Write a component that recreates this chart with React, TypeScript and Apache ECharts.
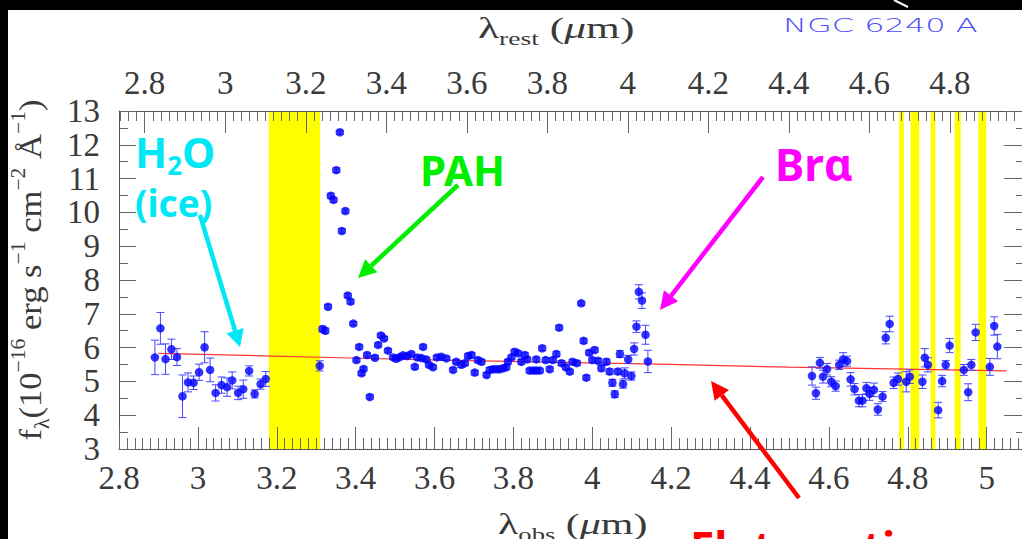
import React, { useEffect, useRef } from 'react';
import * as echarts from 'echarts';

// ---------- data ----------
const obsWave = [
  2.891, 2.905, 2.918, 2.933, 2.947, 2.961, 2.975, 2.989, 3.003, 3.017, 3.031, 3.045, 3.06, 3.074, 3.087, 3.102, 3.115, 3.13, 3.144, 3.159, 3.172,
  3.309, 3.316, 3.323, 3.33, 3.337, 3.344, 3.351, 3.36, 3.365, 3.374, 3.38, 3.387, 3.394, 3.402, 3.409, 3.415, 3.42, 3.429, 3.436, 3.449, 3.457,
  3.464, 3.472, 3.482, 3.495, 3.503, 3.512, 3.52, 3.53, 3.541, 3.55, 3.556, 3.567, 3.571, 3.579, 3.586, 3.596, 3.606, 3.617, 3.63, 3.647, 3.655,
  3.668, 3.677, 3.685, 3.694, 3.702, 3.71, 3.719, 3.732, 3.74, 3.748, 3.757, 3.765, 3.774, 3.782, 3.786, 3.795, 3.803, 3.812, 3.82, 3.829,
  3.835, 3.841, 3.85, 3.858, 3.858, 3.867, 3.873, 3.882, 3.892, 3.9, 3.909, 3.916, 3.922, 3.933, 3.943, 3.95, 3.961, 3.972, 3.978, 3.985,
  3.992, 4.0, 4.006, 4.015, 4.023, 4.036, 4.044, 4.051, 4.057, 4.065, 4.07, 4.078, 4.082, 4.091, 4.099, 4.106, 4.112, 4.118, 4.126, 4.135, 4.141,
  4.557, 4.567, 4.577, 4.585, 4.595, 4.606, 4.617, 4.626, 4.636, 4.646, 4.655, 4.665, 4.676, 4.685, 4.695, 4.703, 4.714, 4.724, 4.736, 4.744,
  4.754, 4.764, 4.775, 4.796, 4.805, 4.837, 4.843, 4.851, 4.877, 4.887, 4.896, 4.906, 4.942, 4.953, 4.961, 4.972, 5.008, 5.019, 5.027,
];
const fluxVal = [
  5.71, 6.57, 5.66, 5.95, 5.72, 4.56, 4.97, 4.96, 5.27, 6.01, 5.34, 4.66, 4.89, 4.83, 5.03, 4.66, 4.77, 5.31, 4.63, 4.92, 5.07,
  5.46, 6.55, 6.5, 7.21, 10.49, 10.37, 11.25, 12.37, 9.45, 10.04, 7.54, 7.36, 6.71, 5.63, 6.02, 5.24, 5.37, 5.78, 4.54, 5.7, 6.08,
  6.36, 6.27, 5.91, 5.71, 5.67, 5.72, 5.77, 5.75, 5.81, 5.43, 5.71, 5.69, 6.02, 5.65, 5.49, 5.42, 5.71, 5.73, 5.68, 5.34, 5.58,
  5.49, 5.54, 5.75, 5.78, 5.26, 5.63, 5.58, 5.19, 5.34, 5.36, 5.36, 5.36, 5.39, 5.42, 5.58, 5.71, 5.88, 5.83, 5.58, 5.78,
  5.65, 5.32, 5.32, 5.32, 5.65, 5.32, 5.98, 5.63, 5.36, 5.63, 5.81, 6.59, 5.54, 5.42, 5.29, 5.58, 5.54, 7.31, 6.2, 5.11,
  5.85, 5.63, 5.93, 5.61, 5.39, 5.58, 5.29, 4.96, 4.62, 5.29, 5.81, 4.92, 5.24, 5.65, 5.16, 5.96, 6.62, 7.65, 7.39, 6.38, 5.59,
  5.16, 4.65, 5.55, 5.14, 5.36, 4.99, 4.86, 5.49, 5.65, 5.6, 5.06, 4.77, 4.43, 4.43, 4.8, 4.63, 4.75, 4.17, 4.55, 6.29,
  6.7, 4.96, 5.07, 4.99, 5.14, 4.99, 5.7, 5.49, 4.15, 5.01, 5.49, 6.06, 5.34, 4.68, 5.49, 6.45, 5.43, 6.64, 6.03,
];
const fluxErr = [
  0.51, 0.47, 0.45, 0.3, 0.25, 0.63, 0.28, 0.2, 0.24, 0.46, 0.35, 0.24, 0.24, 0.27, 0.25, 0.2, 0.27, 0.15, 0.12, 0.15, 0.22,
  0.15, 0.08, 0.08, 0.07, 0.08, 0.07, 0.07, 0.06, 0.07, 0.06, 0.06, 0.07, 0.06, 0.06, 0.06, 0.06, 0.06, 0.06, 0.06, 0.06, 0.06,
  0.06, 0.06, 0.06, 0.06, 0.06, 0.06, 0.06, 0.06, 0.06, 0.06, 0.06, 0.06, 0.06, 0.06, 0.06, 0.06, 0.06, 0.06, 0.06, 0.06, 0.06,
  0.07, 0.07, 0.07, 0.07, 0.07, 0.07, 0.07, 0.07, 0.07, 0.07, 0.07, 0.07, 0.07, 0.07, 0.07, 0.07, 0.07, 0.07, 0.07, 0.07,
  0.07, 0.07, 0.07, 0.07, 0.07, 0.07, 0.07, 0.07, 0.07, 0.07, 0.07, 0.07, 0.07, 0.07, 0.07, 0.07, 0.07, 0.06, 0.07, 0.07,
  0.07, 0.07, 0.07, 0.07, 0.08, 0.08, 0.08, 0.1, 0.1, 0.08, 0.1, 0.12, 0.16, 0.12, 0.12, 0.18, 0.17, 0.21, 0.23, 0.28, 0.33,
  0.27, 0.18, 0.16, 0.19, 0.17, 0.15, 0.15, 0.14, 0.2, 0.15, 0.2, 0.17, 0.18, 0.18, 0.17, 0.19, 0.2, 0.17, 0.15, 0.18,
  0.23, 0.17, 0.18, 0.3, 0.2, 0.2, 0.27, 0.21, 0.23, 0.17, 0.13, 0.21, 0.16, 0.25, 0.16, 0.24, 0.25, 0.27, 0.36,
];
const continuumWave = [2.9, 3.36, 3.61, 4.17, 4.5, 5.05];
const continuumFlux = [5.83, 5.7, 5.63, 5.51, 5.42, 5.31];
const maskedBands = [
  [3.18, 3.31], [4.778, 4.79], [4.807, 4.829], [4.858, 4.87], [4.919, 4.934], [4.979, 4.999],
];
const obsTickLabels = [2.8, 3, 3.2, 3.4, 3.6, 3.8, 4, 4.2, 4.4, 4.6, 4.8, 5];
const restTickLabels = [2.8, 3, 3.2, 3.4, 3.6, 3.8, 4, 4.2, 4.4, 4.6, 4.8];
const fluxTickLabels = [3, 4, 5, 6, 7, 8, 9, 10, 11, 12, 13];

// ---------- axis ranges ----------
const OBS_MIN = 2.8;
const OBS_MAX = 5.0895;
const REST_MIN = 2.7361;
const REST_MAX = 4.9789;
const FLUX_MIN = 3;
const FLUX_MAX = 13;

function minorTicks(start: number, end: number, step: number, majorEvery: number) {
  const out: number[] = [];
  const n = Math.floor((end - start) / step + 1e-6);
  for (let i = 0; i <= n; i++) {
    const v = Math.round((start + i * step) * 1000) / 1000;
    const isMajor = Math.abs(v / majorEvery - Math.round(v / majorEvery)) < 1e-6;
    if (!isMajor) out.push(v);
  }
  return out;
}
const obsMinor = minorTicks(2.8, OBS_MAX, 0.02, 0.2);
const restMinor = minorTicks(2.74, REST_MAX, 0.02, 0.2);
const fluxMinor = minorTicks(3, 13, 0.5, 1);

const fmt = (v: number) => String(Math.round(v * 10) / 10);
const AXIS_COLOR = '#555';
const TICK_COLOR = '#666';
const LABEL_FONT = { fontFamily: 'Liberation Serif', fontSize: 33, color: '#3a3a3a' };

function arrow(x1: number, y1: number, x2: number, y2: number, color: string, w: number, hl: number, hw: number) {
  const a = Math.atan2(y2 - y1, x2 - x1);
  const bx = x2 - hl * Math.cos(a);
  const by = y2 - hl * Math.sin(a);
  const px = -Math.sin(a);
  const py = Math.cos(a);
  return [
    { type: 'line', z: 100, shape: { x1, y1, x2: bx, y2: by }, style: { stroke: color, lineWidth: w } },
    {
      type: 'polygon', z: 100,
      shape: { points: [[x2, y2], [bx + px * hw, by + py * hw], [bx - px * hw, by - py * hw]] },
      style: { fill: color },
    },
  ];
}

const serif = 'Liberation Serif';
const ann = 'Noto Sans';
const TXT = '#3a3a3a';

export default function App() {
  const ref = useRef<HTMLDivElement>(null);
  useEffect(() => {
    if (!ref.current) return;
    const chart = echarts.init(ref.current, null, { renderer: 'svg' });
    const points = obsWave.map((w, i) => [w, fluxVal[i]]);
    const errs = obsWave.map((w, i) => [w, fluxVal[i] - fluxErr[i], fluxVal[i] + fluxErr[i]]);
    const cont = continuumWave.map((w, i) => [w, continuumFlux[i]]);

    const xBase = {
      type: 'value', gridIndex: 0, z: 5, splitLine: { show: false },
    };
    const titleRich = {
      m: { fontFamily: serif, fontSize: 30, lineHeight: 40, fill: TXT },
      i: { fontFamily: serif, fontStyle: 'italic', fontSize: 30, lineHeight: 40, fill: TXT },
      s: { fontFamily: serif, fontSize: 19, lineHeight: 19, verticalAlign: 'bottom', fill: TXT },
    };
    const option: any = {
      animation: false,
      backgroundColor: '#ffffff',
      grid: { left: 119, right: 0, top: 111, bottom: 90, containLabel: false, outerBoundsMode: 'none' },
      xAxis: [
        {
          ...xBase, min: OBS_MIN, max: OBS_MAX, position: 'bottom',
          axisLine: { show: true, lineStyle: { color: AXIS_COLOR, width: 1 } },
          axisTick: { show: true, inside: true, length: 22, customValues: obsTickLabels, lineStyle: { color: TICK_COLOR } },
          axisLabel: { show: true, customValues: obsTickLabels, formatter: fmt, margin: 12, ...LABEL_FONT },
        },
        {
          ...xBase, min: OBS_MIN, max: OBS_MAX, position: 'bottom',
          axisLine: { show: false },
          axisTick: { show: true, inside: true, length: 11, customValues: obsMinor, lineStyle: { color: TICK_COLOR } },
          axisLabel: { show: false },
        },
        {
          ...xBase, min: REST_MIN, max: REST_MAX, position: 'top',
          axisLine: { show: true, lineStyle: { color: AXIS_COLOR, width: 1 } },
          axisTick: { show: true, inside: true, length: 22, customValues: restTickLabels, lineStyle: { color: TICK_COLOR } },
          axisLabel: { show: true, customValues: restTickLabels, formatter: fmt, margin: 12, ...LABEL_FONT },
        },
        {
          ...xBase, min: REST_MIN, max: REST_MAX, position: 'top',
          axisLine: { show: false },
          axisTick: { show: true, inside: true, length: 10, customValues: restMinor, lineStyle: { color: TICK_COLOR } },
          axisLabel: { show: false },
        },
      ],
      yAxis: [
        {
          type: 'value', min: FLUX_MIN, max: FLUX_MAX, position: 'left', z: 5, splitLine: { show: false },
          axisLine: { show: true, lineStyle: { color: AXIS_COLOR, width: 1 } },
          axisTick: { show: true, inside: true, length: 17, customValues: fluxTickLabels, lineStyle: { color: TICK_COLOR } },
          axisLabel: { show: true, customValues: fluxTickLabels, margin: 19, ...LABEL_FONT },
        },
        {
          type: 'value', min: FLUX_MIN, max: FLUX_MAX, position: 'left', z: 5, splitLine: { show: false },
          axisLine: { show: false },
          axisTick: { show: true, inside: true, length: 9, customValues: fluxMinor, lineStyle: { color: TICK_COLOR } },
          axisLabel: { show: false },
        },
        {
          type: 'value', min: FLUX_MIN, max: FLUX_MAX, position: 'right', z: 5, splitLine: { show: false },
          axisLine: { show: true, lineStyle: { color: AXIS_COLOR, width: 1 } },
          axisTick: { show: true, inside: true, length: 18, customValues: fluxTickLabels, lineStyle: { color: TICK_COLOR } },
          axisLabel: { show: false },
        },
        {
          type: 'value', min: FLUX_MIN, max: FLUX_MAX, position: 'right', z: 5, splitLine: { show: false },
          axisLine: { show: false },
          axisTick: { show: true, inside: true, length: 6, customValues: fluxMinor, lineStyle: { color: TICK_COLOR } },
          axisLabel: { show: false },
        },
      ],
      series: [
        {
          type: 'custom', name: 'masked', xAxisIndex: 0, yAxisIndex: 0, z: 1, silent: true,
          data: maskedBands,
          encode: { x: [0, 1] },
          renderItem: (params: any, api: any) => {
            const p0 = api.coord([api.value(0), FLUX_MAX]);
            const p1 = api.coord([api.value(1), FLUX_MIN]);
            return {
              type: 'rect',
              shape: { x: p0[0], y: p0[1], width: p1[0] - p0[0], height: p1[1] - p0[1] },
              style: { fill: '#ffff00' },
            };
          },
        },
        {
          type: 'line', name: 'continuum', xAxisIndex: 0, yAxisIndex: 0, z: 3, data: cont,
          symbol: 'none', silent: true, lineStyle: { color: '#ff3333', width: 1.2 },
        },
        {
          type: 'custom', name: 'errors', xAxisIndex: 0, yAxisIndex: 0, z: 4, silent: true,
          data: errs,
          encode: { x: 0, y: [1, 2] },
          renderItem: (params: any, api: any) => {
            const x = api.value(0);
            const lo = api.coord([x, api.value(1)]);
            const hi = api.coord([x, api.value(2)]);
            const hw = 4;
            const st = { stroke: '#4646ff', lineWidth: 1 };
            return {
              type: 'group',
              children: [
                { type: 'line', shape: { x1: lo[0], y1: lo[1], x2: hi[0], y2: hi[1] }, style: st },
                { type: 'line', shape: { x1: lo[0] - hw, y1: lo[1], x2: lo[0] + hw, y2: lo[1] }, style: st },
                { type: 'line', shape: { x1: hi[0] - hw, y1: hi[1], x2: hi[0] + hw, y2: hi[1] }, style: st },
              ],
            };
          },
        },
        {
          type: 'scatter', name: 'flux', xAxisIndex: 0, yAxisIndex: 0, z: 6, data: points,
          symbol: 'circle', symbolSize: 8.5, itemStyle: { color: '#0000ff' }, silent: true,
        },
      ],
      graphic: {
        elements: [
          { type: 'rect', z: 200, shape: { x: 0, y: 0, width: 1022, height: 10 }, style: { fill: '#000' } },
          { type: 'rect', z: 200, shape: { x: 0, y: 0, width: 8, height: 539 }, style: { fill: '#000' } },
          { type: 'line', z: 201, shape: { x1: 894, y1: 0, x2: 908, y2: 7 }, style: { stroke: '#fff', lineWidth: 2 } },
          {
            type: 'text', z: 100, x: 783, y: 25, scaleX: 1.6,
            style: { text: 'NGC 6240 A', fontFamily: 'DejaVu Sans', fontWeight: 200, fontSize: 20, fill: '#4d4dff', align: 'left', verticalAlign: 'middle' },
          },
          {
            type: 'text', z: 100, x: 478, y: 28, scaleX: 1.45,
            style: { text: '{m|λ}{s|rest}{m| (}{i|μ}{m|m)}', align: 'left', verticalAlign: 'middle', fill: TXT, rich: titleRich },
          },
          {
            type: 'text', z: 100, x: 498, y: 524, scaleX: 1.4,
            style: { text: '{m|λ}{s|obs}{m| (}{i|μ}{m|m)}', align: 'left', verticalAlign: 'middle', fill: TXT, rich: titleRich },
          },
          {
            type: 'text', z: 100, x: 30, y: 270, rotation: Math.PI / 2, scaleX: 1.08,
            style: {
              text: '{m|f}{s|λ}{m|(10}{p|−16}{m| erg s}{p|−1}{m| cm}{p|−2}{m| Å}{p|−1}{m|)}',
              align: 'center', verticalAlign: 'middle', fill: TXT,
              rich: {
                m: { fontFamily: serif, fontSize: 32, lineHeight: 44, fill: TXT },
                s: { fontFamily: serif, fontSize: 20, lineHeight: 20, verticalAlign: 'bottom', fill: TXT },
                p: { fontFamily: serif, fontSize: 20, lineHeight: 20, verticalAlign: 'top', fill: TXT },
              },
            },
          },
          // annotations
          {
            type: 'text', z: 100, x: 135, y: 124,
            style: {
              text: '{h|H}{s|2}{h|O}', align: 'left', verticalAlign: 'top', fill: '#00e8f5',
              rich: {
                h: { fontFamily: ann, fontWeight: 'bold', fontSize: 42, lineHeight: 54, fill: '#00e8f5' },
                s: { fontFamily: ann, fontWeight: 'bold', fontSize: 26, lineHeight: 26, verticalAlign: 'bottom', fill: '#00e8f5' },
              },
            },
          },
          {
            type: 'text', z: 100, x: 135, y: 202,
            style: { text: '(ice)', fontFamily: ann, fontWeight: 'bold', fontSize: 37, lineHeight: 34, fill: '#00e8f5', align: 'left', verticalAlign: 'middle' },
          },
          ...arrow(200, 215, 240, 347, '#00e8f5', 4.5, 17, 9),
          {
            type: 'text', z: 100, x: 420, y: 169,
            style: { text: 'PAH', fontFamily: ann, fontWeight: 'bold', fontSize: 42, fill: '#00ee00', align: 'left', verticalAlign: 'middle' },
          },
          ...arrow(458, 185, 358, 278, '#00ee00', 4.5, 18, 9),
          {
            type: 'text', z: 100, x: 775, y: 164,
            style: { text: 'Brα', fontFamily: ann, fontWeight: 'bold', fontSize: 44, fill: '#ff00ff', align: 'left', verticalAlign: 'middle' },
          },
          ...arrow(763, 177, 660, 310, '#ff00ff', 4.5, 18, 9),
          ...arrow(799, 498, 711, 381, '#ff0000', 4.5, 18, 9),
          {
            type: 'text', z: 100, x: 690, y: 547,
            style: { text: 'Flat continuum', fontFamily: ann, fontWeight: 'bold', fontSize: 44, fill: '#ff0000', align: 'left', verticalAlign: 'middle' },
          },
        ],
      },
    };
    chart.setOption(option);
    return () => chart.dispose();
  }, []);
  return (
    <div style={{ position: 'fixed', left: 0, top: 0, width: 1022, height: 539, overflow: 'hidden', background: '#fff' }}>
      <div ref={ref} style={{ width: 1022, height: 539 }} />
    </div>
  );
}
